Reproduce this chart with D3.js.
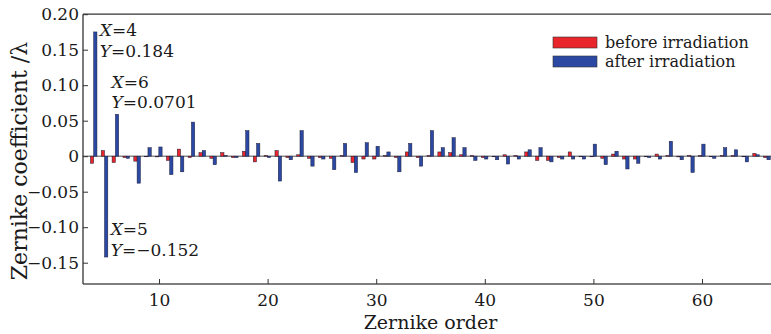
<!DOCTYPE html>
<html><head><meta charset="utf-8">
<script src="https://cdn.jsdelivr.net/npm/d3@7"></script>
<style>
html,body{margin:0;padding:0;background:#fff;}
svg{display:block;}
text{font-family:"DejaVu Serif",serif;fill:#1a1a1a;}
</style></head>
<body>
<svg id="chart" width="771" height="334"></svg>
<script>
const orders = [4,5,6,7,8,9,10,11,12,13,14,15,16,17,18,19,20,21,22,23,24,25,26,27,28,29,30,31,32,33,34,35,
  36,37,38,39,40,41,42,43,44,45,46,47,48,49,50,51,52,53,54,55,56,57,58,59,60,61,62,63,64,65,66];
const before = [-0.010,0.008,-0.009,-0.002,-0.007,0.000,-0.001,-0.006,0.010,-0.002,0.005,-0.003,0.005,-0.002,
  0.007,-0.008,0.001,0.008,-0.002,0.002,-0.003,-0.002,-0.003,0.001,-0.009,-0.004,-0.004,0.001,-0.002,0.006,
  -0.002,0.001,0.006,0.005,0.002,0.001,-0.002,0.000,0.002,0.001,0.006,-0.006,-0.006,-0.002,0.006,0.000,0.000,
  -0.003,0.003,-0.004,-0.004,0.000,0.003,0.001,-0.001,0.001,0.001,0.000,0.001,0.001,0.000,0.004,-0.002];
const after = [0.175,-0.142,0.059,-0.003,-0.038,0.012,0.013,-0.026,-0.022,0.048,0.008,-0.012,0.001,-0.002,
  0.036,0.018,-0.002,-0.035,-0.005,0.036,-0.014,-0.004,-0.019,0.018,-0.023,0.019,0.014,0.006,-0.022,0.018,
  -0.014,0.036,0.012,0.026,0.012,-0.006,-0.004,-0.005,-0.011,-0.004,0.009,0.012,-0.008,-0.004,-0.004,-0.004,
  0.017,-0.012,0.007,-0.018,-0.010,-0.002,-0.004,0.021,-0.005,-0.023,0.017,-0.003,0.012,0.009,-0.008,0.002,-0.005];
const seriesNames = ["before irradiation","after irradiation"];
const seriesColors = ["#e8262b","#2b49a3"];
const yTicks = [-0.15,-0.10,-0.05,0,0.05,0.10,0.15,0.20];
const xTicks = [10,20,30,40,50,60];
const annotations = [
  {order:4, value:"0.184"},
  {order:6, value:"0.0701"},
  {order:5, value:"−0.152"}
];

const svg = d3.select("#chart");
const L = 83, R = 778, T = 14.2, B = 284;

const x = d3.scaleLinear().domain([3, 67]).range([L, R]);
const y = d3.scaleLinear().domain([-0.18, 0.2]).range([B, T]);

// zero line
svg.append("line").attr("x1", L).attr("x2", 771).attr("y1", y(0)).attr("y2", y(0))
  .attr("stroke", "#8a8a8a").attr("stroke-width", 1.4);

const bw = 3.3;
const data = orders.map((o,i)=>({o, b:before[i], a:after[i]}));
const g = svg.append("g");
[["b",0],["a",1]].forEach(([k,si])=>{
  g.selectAll("rect.s"+si).data(data).enter().append("rect")
    .attr("class","s"+si)
    .attr("x", d => x(d.o) + (si===0 ? -bw : 0) - 0.2)
    .attr("width", bw)
    .attr("y", d => y(Math.max(0, d[k])))
    .attr("height", d => Math.max(0.6, Math.abs(y(d[k]) - y(0))))
    .attr("fill", seriesColors[si])
    .attr("stroke", "#1d1d3a").attr("stroke-width", 0.5);
});

// frame
svg.append("line").attr("x1", L).attr("x2", 771).attr("y1", T).attr("y2", T).attr("stroke","#333").attr("stroke-width",1.3);
svg.append("line").attr("x1", L).attr("x2", 771).attr("y1", B).attr("y2", B).attr("stroke","#555").attr("stroke-width",1.6);
svg.append("line").attr("x1", L).attr("x2", L).attr("y1", T).attr("y2", B).attr("stroke","#333").attr("stroke-width",1.3);

// y axis
const fmt = v => v === 0 ? "0" : d3.format(".2f")(v).replace("-", "−");
const yAx = svg.append("g").attr("transform", `translate(${L},0)`)
  .call(d3.axisLeft(y).tickValues(yTicks).tickSize(-5).tickPadding(4).tickFormat(fmt));
yAx.select(".domain").remove();
yAx.selectAll("line").attr("stroke","#333");
yAx.selectAll("text").attr("font-size", 17).attr("font-family","DejaVu Serif").attr("fill","#1a1a1a");

// x axis
const xAx = svg.append("g").attr("transform", `translate(0,${B})`)
  .call(d3.axisBottom(x).tickValues(xTicks).tickSize(-5).tickPadding(10).tickFormat(d3.format("d")));
xAx.select(".domain").remove();
xAx.selectAll("line").attr("stroke","#333");
xAx.selectAll("text").attr("font-size", 17).attr("font-family","DejaVu Serif").attr("fill","#1a1a1a");

// titles
svg.append("text").attr("x", (L + R) / 2).attr("y", 329).attr("text-anchor","middle")
  .attr("font-size", 19).text("Zernike order");
svg.append("text").attr("transform", `translate(27,161) rotate(-90)`)
  .attr("text-anchor","middle").attr("font-size", 22).text("Zernike coefficient /λ");

// annotations
const annPos = {4:{dx:6, y1:36, y2:56.7}, 6:{dx:-4, y1:87.7, y2:108.3}, 5:{dx:6, y1:235, y2:256}};
annotations.forEach(a => {
  const p = annPos[a.order];
  const x0 = x(a.order) + p.dx;
  const t1 = svg.append("text").attr("x", x0).attr("y", p.y1).attr("font-size", 17);
  t1.append("tspan").attr("font-style","italic").text("X");
  t1.append("tspan").text("=" + a.order);
  const t2 = svg.append("text").attr("x", x0).attr("y", p.y2).attr("font-size", 17);
  t2.append("tspan").attr("font-style","italic").text("Y");
  t2.append("tspan").text("=" + a.value);
});

// legend
const lg = svg.append("g").attr("transform","translate(553,37)");
seriesNames.forEach((n,i)=>{
  lg.append("rect").attr("x",0).attr("y", i*19).attr("width",44).attr("height",11)
    .attr("fill", seriesColors[i]).attr("stroke","#333").attr("stroke-width",0.6);
  lg.append("text").attr("x", 52).attr("y", i*19 + 11).attr("font-size", 16).text(n);
});
</script>
</body></html>
